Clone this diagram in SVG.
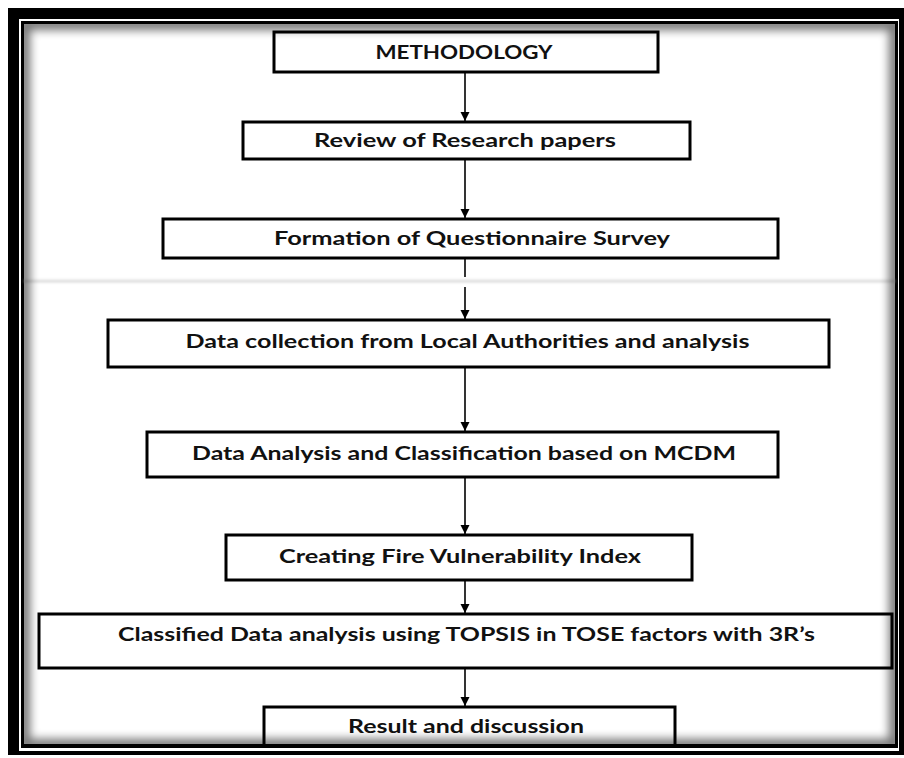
<svg xmlns="http://www.w3.org/2000/svg" width="904" height="758" viewBox="0 0 904 758">
<style>
  .box { fill:#ffffff; stroke:#000000; stroke-width:3; }
  .lbl { font-family: Lato, "Liberation Sans", sans-serif; font-weight:700; font-size:18px; fill:#111111; text-anchor:middle; }
  .conn { stroke:#000000; stroke-width:1.6; fill:none; marker-end:url(#arr); }
  .shade { fill:none; stroke:#000000; stroke-width:12; opacity:0.55; }
</style>
<defs>
  <marker id="arr" markerUnits="userSpaceOnUse" markerWidth="10" markerHeight="10" refX="9" refY="4.5" orient="auto">
    <path d="M0,0 L9,4.5 L0,9 z" fill="#000000"/>
  </marker>
  <filter id="soft" x="-10%" y="-10%" width="120%" height="120%">
    <feGaussianBlur stdDeviation="5"/>
  </filter>
  <filter id="softLine" x="-5%" y="-200%" width="110%" height="500%">
    <feGaussianBlur stdDeviation="1.5"/>
  </filter>
  <clipPath id="clipPanel"><rect x="24" y="24" width="871" height="721"/></clipPath>
</defs>

<g id="frame">
  <rect x="0" y="0" width="904" height="758" fill="#ffffff"/>
  <rect x="8" y="8" width="896" height="747" fill="#000000"/>
  <rect x="19" y="19" width="880" height="732" fill="#ffffff"/>
  <rect x="22.5" y="22.5" width="874" height="724" fill="none" stroke="#000000" stroke-width="3"/>
  <rect x="24" y="24" width="871" height="721" fill="#ffffff"/>
</g>

<g id="connectors">
  <line class="conn" x1="465" y1="73" x2="465" y2="121"/>
  <line class="conn" x1="465" y1="160" x2="465" y2="218"/>
  <line class="conn" x1="465" y1="259" x2="465" y2="319"/>
  <line class="conn" x1="465" y1="368" x2="465" y2="431"/>
  <line class="conn" x1="465" y1="478" x2="465" y2="534"/>
  <line class="conn" x1="465" y1="581" x2="465" y2="613"/>
  <line class="conn" x1="465" y1="669" x2="465" y2="706"/>
</g>

<g id="node-methodology">
  <rect class="box" x="274" y="32" width="384" height="40"/>
  <text class="lbl" x="464" y="59" textLength="177" lengthAdjust="spacingAndGlyphs">METHODOLOGY</text>
</g>
<g id="node-review">
  <rect class="box" x="243" y="122" width="447" height="37"/>
  <text class="lbl" x="465" y="147" textLength="302" lengthAdjust="spacingAndGlyphs">Review of Research papers</text>
</g>
<g id="node-formation">
  <rect class="box" x="163" y="219" width="615" height="39"/>
  <text class="lbl" x="472" y="245" textLength="396" lengthAdjust="spacingAndGlyphs">Formation of Questionnaire Survey</text>
</g>
<g id="node-data-collection">
  <rect class="box" x="108" y="320" width="721" height="47"/>
  <text class="lbl" x="467.5" y="348" textLength="564" lengthAdjust="spacingAndGlyphs">Data collection from Local Authorities and analysis</text>
</g>
<g id="node-data-analysis">
  <rect class="box" x="147" y="432" width="631" height="45"/>
  <text class="lbl" x="464" y="460" textLength="544" lengthAdjust="spacingAndGlyphs">Data Analysis and Classification  based on MCDM</text>
</g>
<g id="node-fvi">
  <rect class="box" x="226" y="535" width="466" height="45"/>
  <text class="lbl" x="460" y="563" textLength="362" lengthAdjust="spacingAndGlyphs">Creating Fire Vulnerability Index</text>
</g>
<g id="node-topsis">
  <rect class="box" x="39" y="614" width="853" height="54"/>
  <text class="lbl" x="466.5" y="641" textLength="697" lengthAdjust="spacingAndGlyphs">Classified Data analysis using TOPSIS in TOSE factors with 3R’s</text>
</g>
<g id="node-result">
  <rect class="box" x="264" y="707" width="411" height="39"/>
  <text class="lbl" x="466" y="733" textLength="236" lengthAdjust="spacingAndGlyphs">Result and discussion</text>
</g>

<g id="shading">
  <rect x="461" y="277" width="8" height="10" fill="#ffffff"/>
  <rect x="24" y="280.5" width="871" height="1.5" fill="#bdbdbd" filter="url(#softLine)"/>
  <g clip-path="url(#clipPanel)"><rect class="shade" x="24" y="24" width="871" height="721" filter="url(#soft)"/></g>
  <rect x="24" y="744" width="871" height="2" fill="#000000"/>
</g>
</svg>
